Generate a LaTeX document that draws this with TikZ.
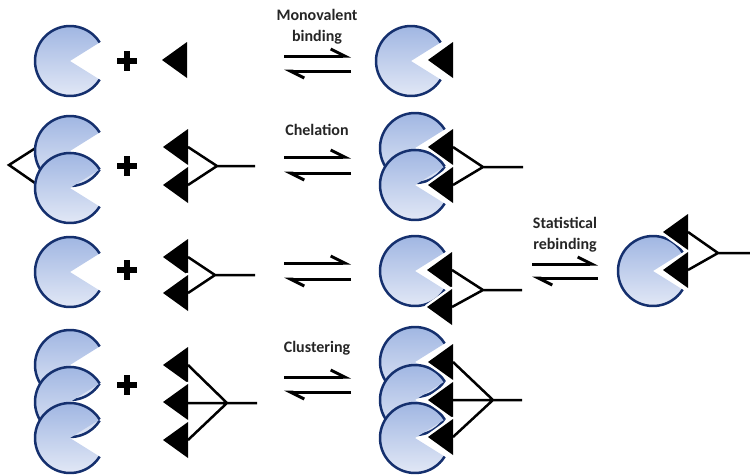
\documentclass[tikz,border=0pt]{standalone}
\usepackage{fontspec}
\setmainfont{Carlito}
\usetikzlibrary{arrows.meta}

\definecolor{recTop}{HTML}{9CB3E1}
\definecolor{recBottom}{HTML}{E6EBF7}
\definecolor{recLine}{HTML}{15306E}
\definecolor{labelGray}{HTML}{262626}

\tikzset{
  receptor/.style={top color=recTop, bottom color=recBottom},
  rim/.style={draw=recLine, line width=2.5pt},
  halo/.style={draw=white, fill=white, line width=5pt, line join=round},
  arm/.style={line width=2.5pt},
  harpoon/.style={line width=3pt, -{Straight Barb[left,length=14pt,width=14pt]}},
  rxnlabel/.style={font=\fontsize{16}{21}\selectfont\bfseries, align=center, text=labelGray}
}

% receptor (pacman) centred at x,y ; y counts downwards
\newcommand{\receptor}[2]{%
  \shade[receptor] (#1,-#2) -- ++(32:35) arc (32:328:35) -- cycle;
  \draw[rim] (#1,-#2) ++(32:35) arc (32:328:35);}
% ligand head, apex at x,y
\newcommand{\ligand}[2]{%
  \filldraw[halo] (#1,-#2) -- ++(25,18) -- ++(0,-36) -- cycle;
  \fill (#1,-#2) -- ++(25,18) -- ++(0,-36) -- cycle;}
\newcommand{\plusat}[2]{\draw[line width=6pt] (#1-10,-#2) -- (#1+10,-#2) (#1,-#2+10) -- (#1,-#2-10);}

\begin{document}
\begin{tikzpicture}[x=1pt,y=1pt]

\useasboundingbox (0,0) rectangle (750,-475);

% monovalent
\receptor{70}{61}
\plusat{127}{61}
\ligand{162}{60}
\receptor{411}{61}
\ligand{428}{60}

% chelation
\draw[arm] (45,-142) -- (9,-165) -- (45,-190);
\receptor{70}{151}
\receptor{70}{188}
\plusat{127}{166}
\ligand{163}{147}
\ligand{163}{185}
\draw[arm] (188,-147) -- (217,-166) -- (188,-185) (217,-166) -- (255,-166);
\receptor{415}{148}
\receptor{415}{185}
\ligand{428}{147}
\ligand{428}{185}
\draw[arm] (453,-147) -- (483,-167) -- (453,-185) (483,-167) -- (523,-167);

% statistical rebinding
\receptor{70}{272}
\plusat{127}{270}
\ligand{163}{257}
\ligand{163}{293}
\draw[arm] (188,-257) -- (215,-275) -- (188,-293) (215,-275) -- (255,-275);
\receptor{415}{271}
\ligand{427}{270}
\ligand{427}{307}
\draw[arm] (452,-270) -- (483,-290) -- (452,-307) (483,-290) -- (522,-290);
\receptor{653}{271}
\ligand{663}{232}
\ligand{663}{270}
\draw[arm] (688,-232) -- (718,-253) -- (688,-270) (718,-253) -- (750,-253);

% clustering
\receptor{70}{365}
\receptor{70}{402}
\receptor{70}{438}
\plusat{127}{385}
\ligand{163}{365}
\ligand{163}{402}
\ligand{163}{440}
\draw[arm] (188,-365) -- (227,-403) -- (188,-440) (188,-403) -- (257,-403);
\receptor{415}{362}
\receptor{415}{400}
\receptor{415}{438}
\ligand{428}{362}
\ligand{428}{400}
\ligand{428}{437}
\draw[arm] (453,-362) -- (493,-400) -- (453,-437) (453,-400) -- (522,-400);

% equilibrium arrows
\coordinate (monoL) at (284,-56);  \coordinate (monoR) at (351,-56);
\coordinate (monoBL) at (284,-71); \coordinate (monoBR) at (351,-71);
\coordinate (chelL) at (284,-157); \coordinate (chelR) at (351,-157);
\coordinate (chelBL) at (284,-173); \coordinate (chelBR) at (351,-173);
\coordinate (bivL) at (284,-263);  \coordinate (bivR) at (351,-263);
\coordinate (bivBL) at (284,-279); \coordinate (bivBR) at (351,-279);
\coordinate (clusL) at (284,-377); \coordinate (clusR) at (351,-377);
\coordinate (clusBL) at (284,-392); \coordinate (clusBR) at (351,-392);
\coordinate (statL) at (532,-264); \coordinate (statR) at (598,-264);
\coordinate (statBL) at (532,-278); \coordinate (statBR) at (598,-278);
\draw[harpoon] (monoL) -- (monoR);
\draw[harpoon] (monoBR) -- (monoBL);
\draw[harpoon] (chelL) -- (chelR);
\draw[harpoon] (chelBR) -- (chelBL);
\draw[harpoon] (bivL) -- (bivR);
\draw[harpoon] (bivBR) -- (bivBL);
\draw[harpoon] (clusL) -- (clusR);
\draw[harpoon] (clusBR) -- (clusBL);
\draw[harpoon] (statL) -- (statR);
\draw[harpoon] (statBR) -- (statBL);

% labels
\node[rxnlabel] (mono) at (317,-27) {Monovalent\\binding};
\node[rxnlabel] (chel) at (317,-130) {Chelation};
\node[rxnlabel] (stat) at (565,-235) {Statistical\\rebinding};
\node[rxnlabel] (clus) at (317,-348) {Clustering};

\end{tikzpicture}
\end{document}
